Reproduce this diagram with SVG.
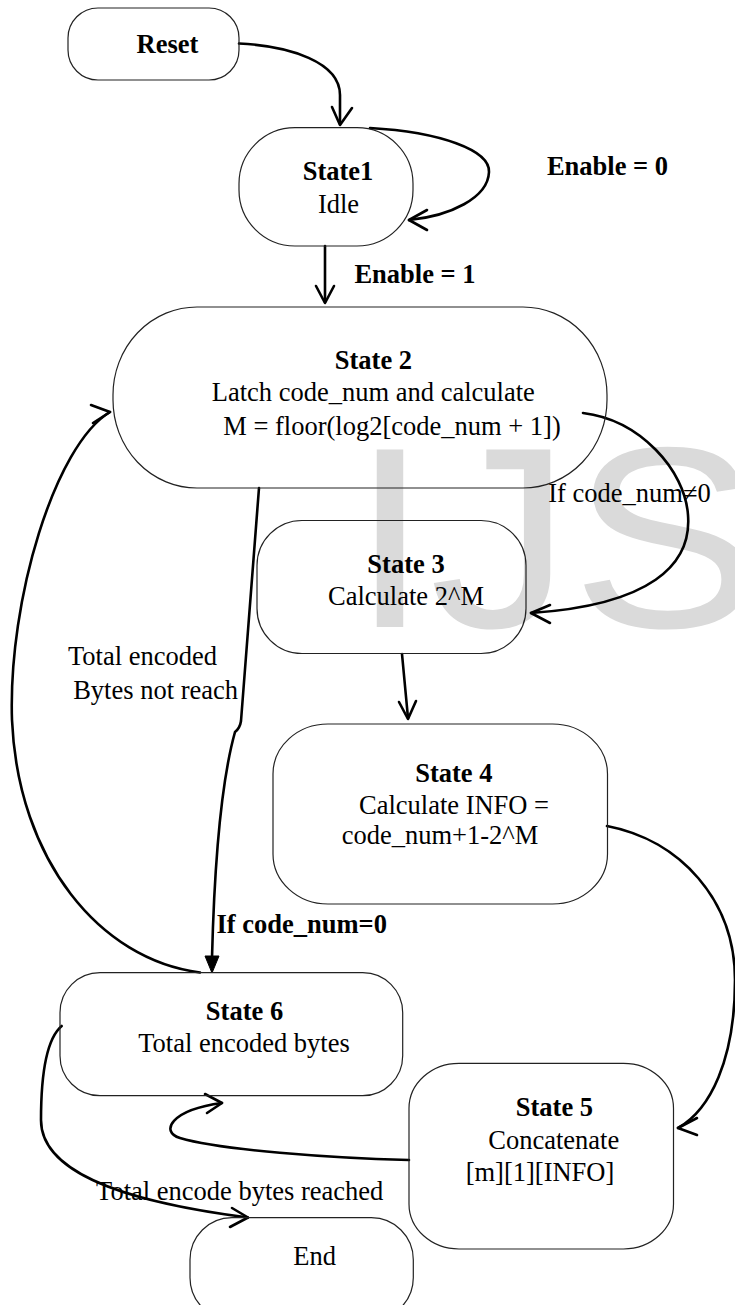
<svg xmlns="http://www.w3.org/2000/svg" width="735" height="1305" viewBox="0 0 735 1305">
<style>
.node{fill:none;stroke:#222;stroke-width:1.2}
.t{font-family:"Liberation Serif","Times New Roman",serif;font-size:26.5px;fill:#000;text-anchor:middle}
.b{font-weight:bold}
.edge{fill:none;stroke:#000;stroke-width:2.6;stroke-linecap:round;stroke-linejoin:round}
.wm{font-family:"Liberation Sans",Arial,sans-serif;font-size:258px;fill:#dadada}
</style>
<rect width="735" height="1305" fill="#fff"/>
<text class="wm" x="318.7" y="627" transform="scale(1.1,1)">IJS</text>

<g id="connectors">
  <path class="edge" d="M239,43.5 C290,46 340,62 340,95 L340,124"/>
  <path class="edge" d="M332,107 L340,125 L352,108"/>
  <path class="edge" d="M370,128 C440,132 490,150 489,172 C488,198 450,216 409,220"/>
  <path class="edge" d="M427,210 L409,220 L427,230"/>
  <path class="edge" d="M325,246 L325,302"/>
  <path class="edge" d="M316,286 L325,303 L334,286"/>
  <path class="edge" d="M583,413 C640,420 685,470 688,515 C692,565 650,605 531,613"/>
  <path class="edge" d="M550,605 L531,613 L550,623"/>
  <path class="edge" d="M402,654 L408,718"/>
  <path class="edge" d="M399,702 L408,719 L416,701"/>
  <path class="edge" d="M259,488 L241,721 Q240,728 235,732 Q216,800 212,958"/>
  <path d="M205,956 L219,956 L212,973 Z" fill="#000" stroke="#000" stroke-width="1"/>
  <path class="edge" d="M200,972.5 C100,960 18,860 12,720 C8,600 55,445 110,412"/>
  <path class="edge" d="M91,405 L110,412 L93,423"/>
  <path class="edge" d="M607,826 C680,840 735,900 735,980 C735,1060 710,1110 678,1128"/>
  <path class="edge" d="M697,1118 L678,1128 L697,1135"/>
  <path class="edge" d="M409,1160 C330,1158 220,1150 180,1138 C160,1132 170,1110 222,1103"/>
  <path class="edge" d="M205,1094 L222,1103 L207,1113"/>
  <path class="edge" d="M61.7,1026 C45,1040 41,1080 41,1120 C41,1180 150,1205 248,1217.5"/>
  <path class="edge" d="M232,1208 L248,1217.5 L230,1227"/>
</g>

<g id="reset">
  <rect class="node" x="68" y="8" width="171" height="72" rx="30" ry="30"/>
  <text class="t b" x="167.5" y="53">Reset</text>
</g>
<g id="state1">
  <rect class="node" x="239" y="127.7" width="174" height="118.3" rx="56" ry="56"/>
  <text class="t b" x="338" y="180">State1</text>
  <text class="t" x="338.5" y="213">Idle</text>
</g>
<g id="state2">
  <rect class="node" x="113" y="307" width="494" height="181" rx="84" ry="88"/>
  <text class="t b" x="373.4" y="369">State 2</text>
  <text class="t" x="373.3" y="400.7">Latch code_num and calculate</text>
  <text class="t" x="392" y="435">M = floor(log2[code_num + 1])</text>
</g>
<g id="state3">
  <rect class="node" x="257" y="520.5" width="269" height="133" rx="45" ry="45"/>
  <text class="t b" x="406" y="573.3">State 3</text>
  <text class="t" x="406" y="605">Calculate 2^M</text>
</g>
<g id="state4">
  <rect class="node" x="273" y="724" width="334.5" height="180" rx="55" ry="50"/>
  <text class="t b" x="453.8" y="782">State 4</text>
  <text class="t" x="454" y="814">Calculate INFO =</text>
  <text class="t" x="440" y="844">code_num+1-2^M</text>
</g>
<g id="state5">
  <rect class="node" x="409" y="1063.3" width="264.5" height="185.7" rx="50" ry="45"/>
  <text class="t b" x="554.4" y="1116">State 5</text>
  <text class="t" x="553.7" y="1149">Concatenate</text>
  <text class="t" x="540" y="1181">[m][1][INFO]</text>
</g>
<g id="state6">
  <rect class="node" x="60" y="972.7" width="342.7" height="123" rx="40" ry="40"/>
  <text class="t b" x="244.5" y="1020">State 6</text>
  <text class="t" x="244" y="1052">Total encoded bytes</text>
</g>
<g id="end">
  <rect class="node" x="190" y="1217.7" width="223.3" height="102" rx="42" ry="42"/>
  <text class="t" x="314.7" y="1265">End</text>
</g>

<g id="labels">
  <text class="t b" x="607.5" y="175">Enable = 0</text>
  <text class="t b" x="415" y="283">Enable = 1</text>
  <text class="t" x="629.5" y="501.7">If code_num≠0</text>
  <text class="t" x="142.5" y="665">Total encoded</text>
  <text class="t" x="155.6" y="699">Bytes not reach</text>
  <text class="t b" x="301.7" y="933">If code_num=0</text>
  <text class="t" x="239.7" y="1199.5">Total encode bytes reached</text>
</g>
</svg>
